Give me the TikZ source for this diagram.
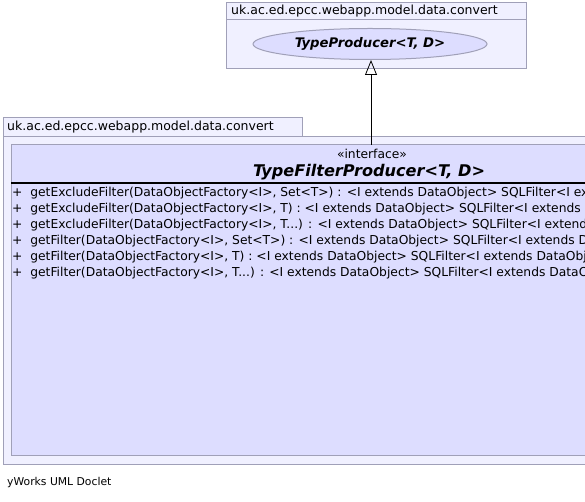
\documentclass[tikz,border=0pt]{standalone}
\usepackage{fontspec}
\setmainfont{DejaVu Sans}
\usetikzlibrary{shapes.geometric,arrows.meta}
\definecolor{pkgfill}{RGB}{240,240,255}
\definecolor{pkgline}{RGB}{160,160,184}
\definecolor{clsfill}{RGB}{221,221,255}
\tikzset{
  pkg/.style={draw=pkgline, fill=pkgfill, line width=1pt},
  cls/.style={draw=pkgline, fill=clsfill, line width=1pt},
  lbl/.style={anchor=west, inner sep=0pt, font=\fontsize{12.5}{15}\selectfont},
  meth/.style={anchor=west, inner sep=0pt, font=\fontsize{12.3}{15}\selectfont},
  inherit/.style={draw=black, line width=0.8pt, -{Triangle[open, width=12pt, length=15pt]}}
}
\begin{document}
\begin{tikzpicture}[x=1pt,y=-1pt]
\clip (0,0) rectangle (585,502);
\fill[white] (0,0) rectangle (585,502);
% top package
\draw[pkg] (226,3) rectangle (526,69);
\draw[pkgline, line width=1pt] (226,20) -- (526,20);
\node[lbl] (toppkg) at (231,11.5) {uk.ac.ed.epcc.webapp.model.data.convert};
\node[ellipse, draw=pkgline, fill=clsfill, line width=1pt, minimum width=234pt, minimum height=31pt, inner sep=0pt,
      font=\fontsize{13.2}{15}\selectfont\bfseries\itshape] (tp) at (370,44) {TypeProducer<T, D>};
% bottom package
\draw[pkg] (3,118) rectangle (302,137);
\draw[pkg] (3,137) rectangle (600,464);
\node[lbl] (botpkg) at (7,127.5) {uk.ac.ed.epcc.webapp.model.data.convert};
% class
\draw[cls] (11,145) rectangle (600,455);
\coordinate (clstop) at (371,145);
\draw[black, line width=1.5pt] (11,183) -- (600,183);
\node[inner sep=0pt, font=\fontsize{12.3}{14}\selectfont] (stereo) at (372,154) {«interface»};
\node[inner sep=0pt, font=\fontsize{16.1}{19}\selectfont\bfseries\itshape] (title) at (369,172) {TypeFilterProducer<T, D>};
\node[meth] (m1) at (12,193) {+\ \ getExcludeFilter(DataObjectFactory<I>, Set<T>) : <I extends DataObject> SQLFilter<I extends DataObject>};
\node[meth] (m2) at (12,209) {+\ \ getExcludeFilter(DataObjectFactory<I>, T) : <I extends DataObject> SQLFilter<I extends DataObject>};
\node[meth] (m3) at (12,225) {+\ \ getExcludeFilter(DataObjectFactory<I>, T...) : <I extends DataObject> SQLFilter<I extends DataObject>};
\node[meth] (m4) at (12,241) {+\ \ getFilter(DataObjectFactory<I>, Set<T>) : <I extends DataObject> SQLFilter<I extends DataObject>};
\node[meth] (m5) at (12,257) {+\ \ getFilter(DataObjectFactory<I>, T) : <I extends DataObject> SQLFilter<I extends DataObject>};
\node[meth] (m6) at (12,273) {+\ \ getFilter(DataObjectFactory<I>, T...) : <I extends DataObject> SQLFilter<I extends DataObject>};
% inheritance
\draw[inherit] (clstop) -- (tp.south -| clstop);
% footer
\node[anchor=west, inner sep=0pt, font=\fontsize{10.8}{13}\selectfont] (footer) at (7,483) {yWorks UML Doclet};
\end{tikzpicture}
\end{document}
